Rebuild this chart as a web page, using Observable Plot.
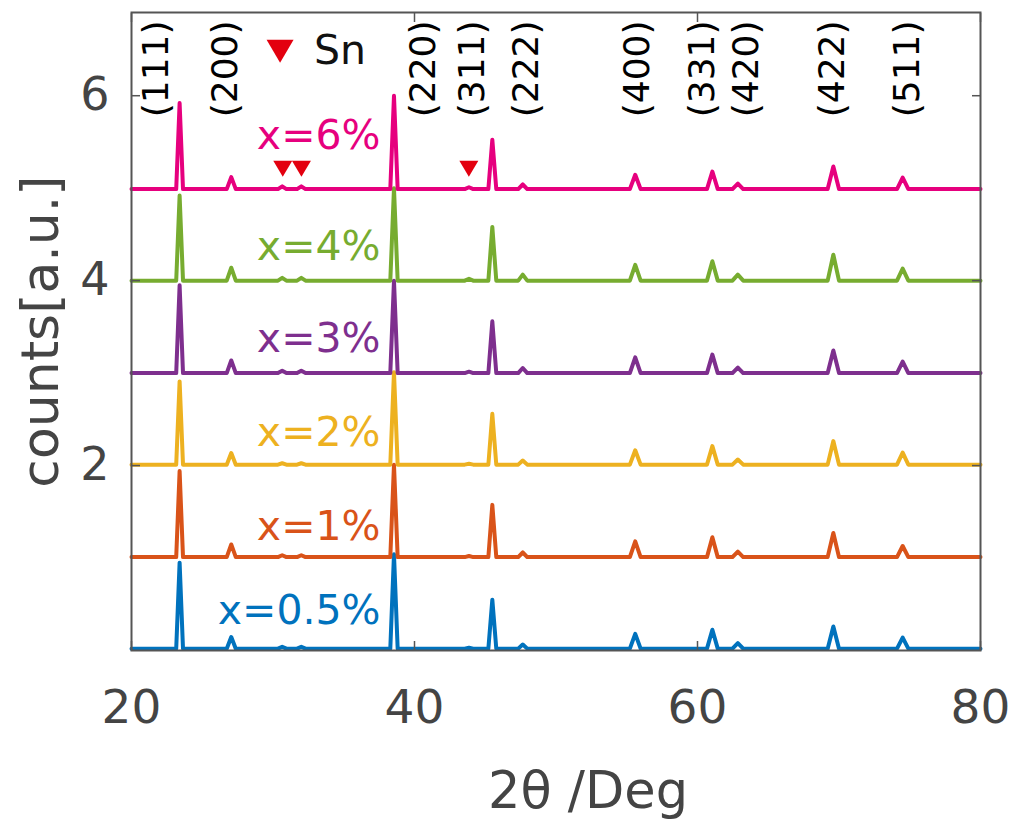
<!DOCTYPE html>
<html>
<head>
<meta charset="utf-8">
<script src="https://cdn.jsdelivr.net/npm/d3@7"></script>
<script src="https://cdn.jsdelivr.net/npm/@observablehq/plot@0.6"></script>
<style>
  html, body { margin: 0; padding: 0; background: #fff; }
</style>
</head>
<body>
<div id="chart"></div>
<script>
// ---- data ----
const seriesNames = ["x=0.5%", "x=1%", "x=2%", "x=3%", "x=4%", "x=6%"];
const seriesColors = ["#0072BD", "#D95319", "#EDB120", "#7E2F8E", "#77AC30", "#E6007E"];
const seriesBaseline = [0.02, 1.01, 2.01, 3.0, 4.0, 4.99];
const seriesLabelY = [0.43, 1.34, 2.35, 3.37, 4.36, 5.57];
const seriesLabelX = 37.6;

const reflections = ["(111)", "(200)", "(220)", "(311)", "(222)", "(400)", "(331)", "(420)", "(422)", "(511)"];
const peakPos = [23.4, 27.05, 38.55, 45.5, 47.65, 55.6, 61.05, 62.85, 69.6, 74.5];
const peakHalfWidth = [0.24, 0.32, 0.26, 0.28, 0.32, 0.38, 0.38, 0.38, 0.4, 0.4];
const hklLabelX = [21.77, 26.64, 40.64, 44.1, 47.92, 55.76, 60.35, 63.46, 69.54, 74.84];
const hklLabelY = 6.29;

// peak heights above baseline, one row per series, columns follow reflections
const peakHeights = [
  [0.93, 0.125, 1.02, 0.53, 0.045, 0.16, 0.205, 0.06, 0.24, 0.12],
  [0.93, 0.137, 1.0, 0.565, 0.05, 0.17, 0.215, 0.06, 0.26, 0.12],
  [0.90, 0.125, 1.0, 0.55, 0.045, 0.155, 0.2, 0.055, 0.255, 0.13],
  [0.95, 0.137, 1.0, 0.56, 0.055, 0.17, 0.2, 0.06, 0.245, 0.125],
  [0.92, 0.14, 1.0, 0.58, 0.065, 0.17, 0.21, 0.065, 0.28, 0.13],
  [0.93, 0.13, 1.01, 0.535, 0.05, 0.155, 0.19, 0.06, 0.245, 0.125]
];

// weak Sn reflections
const snPos = [30.65, 32.0, 43.85];
const snHalfWidth = [0.3, 0.3, 0.3];
const snHeights = [
  [0.02, 0.02, 0.01],
  [0.02, 0.02, 0.012],
  [0.015, 0.015, 0.01],
  [0.025, 0.025, 0.015],
  [0.03, 0.03, 0.02],
  [0.03, 0.03, 0.02]
];
const snMarkerX = [30.69, 32.01, 43.84];
const snMarkerY = 5.21;
const snLegendX = 30.5;
const snLegendY = 6.48;
const snLegendTextX = 32.9;

const xDomain = [20, 80];
const yDomain = [0, 6.9];
const xTicks = [20, 40, 60, 80];
const yTicks = [2, 4, 6];
const xLabel = "2θ /Deg";
const yLabel = "counts[a.u.]";

// ---- build line table from the peak lists ----
const lineRows = [];
seriesNames.forEach((name, si) => {
  const b = seriesBaseline[si];
  const peaks = [];
  peakPos.forEach((p, k) => peaks.push({p, w: peakHalfWidth[k], h: peakHeights[si][k]}));
  snPos.forEach((p, k) => peaks.push({p, w: snHalfWidth[k], h: snHeights[si][k]}));
  peaks.sort((a, c) => a.p - c.p);
  lineRows.push({series: name, si, x: xDomain[0], y: b});
  for (const pk of peaks) {
    lineRows.push({series: name, si, x: pk.p - pk.w, y: b});
    lineRows.push({series: name, si, x: pk.p, y: b + pk.h});
    lineRows.push({series: name, si, x: pk.p + pk.w, y: b});
  }
  lineRows.push({series: name, si, x: xDomain[1], y: b});
});

const seriesLabels = seriesNames.map((name, i) => ({name, color: seriesColors[i], y: seriesLabelY[i], x: seriesLabelX}));
const hklLabels = reflections.map((t, i) => ({t, x: hklLabelX[i], y: hklLabelY}));
const snMarkers = snMarkerX.map(x => ({x, y: snMarkerY}));

const triangleDown = {
  draw(ctx, size) {
    const r = Math.sqrt(size / Math.PI);
    ctx.moveTo(-r, -0.85 * r);
    ctx.lineTo(r, -0.85 * r);
    ctx.lineTo(0, 0.85 * r);
    ctx.closePath();
  }
};

const font = "DejaVu Sans";
const axisGray = "#444";

const chart = Plot.plot({
  width: 1009,
  height: 823,
  marginLeft: 131,
  marginRight: 29,
  marginTop: 12,
  marginBottom: 173,
  style: {fontFamily: font, background: "#fff"},
  x: {domain: xDomain},
  y: {domain: yDomain},
  marks: [
    Plot.line(lineRows, {
      x: "x", y: "y", z: "series",
      stroke: d => seriesColors[d.si],
      strokeWidth: 4, strokeLinejoin: "round", strokeLinecap: "round"
    }),
    Plot.frame({stroke: "#555", strokeWidth: 2}),
    // inward tick marks
    Plot.axisX({ticks: xTicks, anchor: "bottom", tickSize: -9, tickFormat: () => "", stroke: "#555", strokeWidth: 1.5, label: null}),
    Plot.axisX({ticks: xTicks, anchor: "top", tickSize: -9, tickFormat: () => "", stroke: "#555", strokeWidth: 1.5, label: null}),
    Plot.axisY({ticks: yTicks, anchor: "left", tickSize: -9, tickFormat: () => "", stroke: "#555", strokeWidth: 1.5, label: null}),
    Plot.axisY({ticks: yTicks, anchor: "right", tickSize: -9, tickFormat: () => "", stroke: "#555", strokeWidth: 1.5, label: null}),
    // tick labels
    Plot.axisX({ticks: xTicks, anchor: "bottom", tickSize: 0, tickPadding: 39, fontSize: 47, fill: axisGray, label: null, tickFormat: d => String(d)}),
    Plot.axisY({ticks: yTicks, anchor: "left", tickSize: 0, tickPadding: 22, fontSize: 46, fill: axisGray, label: null, tickFormat: d => String(d)}),
    // axis titles
    Plot.text([xLabel], {frameAnchor: "bottom", dx: 32, dy: 141, text: d => d, fontSize: 51, fill: axisGray, textAnchor: "middle", lineAnchor: "middle"}),
    Plot.text([yLabel], {frameAnchor: "left", dx: -90, dy: 0, rotate: -90, text: d => d, fontSize: 52, fill: axisGray, textAnchor: "middle", lineAnchor: "middle"}),
    // hkl labels
    Plot.text(hklLabels, {x: "x", y: "y", text: "t", rotate: -90, fontSize: 36, fill: "#000", textAnchor: "middle", lineAnchor: "middle"}),
    // series labels
    Plot.text(seriesLabels, {x: "x", y: "y", text: "name", fill: d => d.color, fontSize: 41, textAnchor: "end", lineAnchor: "middle"}),
    // Sn markers and legend
    Plot.dot(snMarkers, {x: "x", y: "y", symbol: triangleDown, r: 9.5, fill: "#E3000F", stroke: null}),
    Plot.dot([{x: snLegendX, y: snLegendY}], {x: "x", y: "y", symbol: triangleDown, r: 13.5, fill: "#E3000F", stroke: null}),
    Plot.text([{x: snLegendTextX, y: snLegendY, t: "Sn"}], {x: "x", y: "y", text: "t", fontSize: 41, fill: "#111", textAnchor: "start", lineAnchor: "middle"})
  ]
});

document.getElementById("chart").appendChild(chart);
</script>
</body>
</html>
